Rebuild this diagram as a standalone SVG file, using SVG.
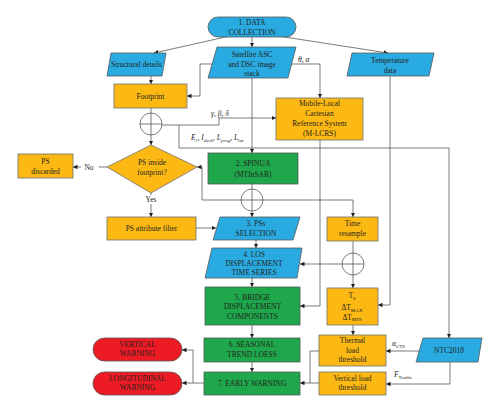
<svg xmlns="http://www.w3.org/2000/svg" width="500" height="413" viewBox="0 0 500 413">
<style>
text{font-family:"Liberation Serif","Times New Roman",serif;font-size:7.5px;fill:#231f20;text-anchor:middle}
.b{fill:#29abe2;stroke:#58595b;stroke-width:0.8}
.o{fill:#fdb913;stroke:#6d6e71;stroke-width:0.8}
.g{fill:#1fa74b;stroke:#58595b;stroke-width:0.8}
.r{fill:#ed1c24;stroke:#58595b;stroke-width:0.8}
.c{fill:none;stroke:#58595b;stroke-width:0.8}
.ar{marker-end:url(#a)}
.it{font-style:italic;text-anchor:start}
.s{font-size:5px}
</style>
<defs>
<marker id="a" viewBox="0 0 6 6" refX="6" refY="3" markerWidth="4.5" markerHeight="4.5" markerUnits="userSpaceOnUse" orient="auto"><path d="M0,0L6,3L0,6z" fill="#231f20"/></marker>
</defs>
<rect width="500" height="413" fill="#fff"/>
<g id="connectors">
<path class="c ar" d="M252,37V47"/>
<path class="c ar" d="M230,36L154,53"/>
<path class="c ar" d="M278,36L388,53"/>
<path class="c ar" d="M151,76V84"/>
<path class="c ar" d="M212,64H200V96H187"/>
<path class="c ar" d="M292,64H320V98"/>
<path class="c" d="M151,108V113"/>
<path class="c ar" d="M151,135V145"/>
<path class="c ar" d="M162,125H219V118H276"/>
<path class="c ar" d="M179,125V148H449V338"/>
<path class="c ar" d="M252,78V153"/>
<path class="c" d="M252,184V189"/>
<path class="c ar" d="M252,211V217"/>
<path class="c ar" d="M241,200H202V167H197"/>
<path class="c ar" d="M263,200H353V217"/>
<path class="c" d="M107,167H99"/>
<path class="c ar" d="M81,167H73"/>
<path class="c" d="M151,193V195"/>
<path class="c ar" d="M151,204V217"/>
<path class="c ar" d="M196,228H216"/>
<path class="c ar" d="M256,240V248"/>
<path class="c" d="M353,241V253"/>
<path class="c ar" d="M342,264H300"/>
<path class="c ar" d="M353,275V288"/>
<path class="c ar" d="M252,278V287"/>
<path class="c ar" d="M320,140V306H300"/>
<path class="c ar" d="M390,76V305H378"/>
<path class="c ar" d="M252,325V338"/>
<path class="c ar" d="M252,362V372"/>
<path class="c ar" d="M353,325V335"/>
<path class="c" d="M319,351H310V383"/>
<path class="c ar" d="M319,383H300"/>
<path class="c ar" d="M420,351H386"/>
<path class="c ar" d="M450,362V384H386"/>
<path class="c ar" d="M204,383H182"/>
<path class="c ar" d="M193,383V350H182"/>
<text x="89" y="169.8">No</text>
<text x="151" y="201.5">Yes</text>
<text class="it" x="298" y="62">θ, α</text>
<text class="it" x="211" y="115.5">γ, β, δ</text>
<text class="it" x="191" y="140">E<tspan class="s" dy="1.5">r</tspan><tspan dy="-1.5">, I</tspan><tspan class="s" dy="1.5">deck</tspan><tspan dy="-1.5">, L</tspan><tspan class="s" dy="1.5">prog</tspan><tspan dy="-1.5">, L</tspan><tspan class="s" dy="1.5">lat</tspan></text>
<text class="it" x="392" y="346">α<tspan class="s" dy="1.5" font-style="normal">CTE</tspan></text>
<text class="it" x="394" y="377">F<tspan class="s" dy="1.5" font-style="normal">Traffic</tspan></text>
</g>
<g id="n1"><rect class="b" x="208" y="17" width="88" height="20" rx="10"/><text x="252" y="25">1. DATA</text><text x="252" y="34.5">COLLECTION</text></g>
<g id="sat"><path class="b" d="M217,47H296L288,78H208Z"/><text x="252" y="56.5">Satellite ASC</text><text x="252" y="66.5">and DSC image</text><text x="252" y="76.3">stack</text></g>
<g id="struct"><path class="b" d="M111,53H166L162,76H107Z"/><text x="136.5" y="67.3">Structural details</text></g>
<g id="temp"><path class="b" d="M352,53H434L429,76H347Z"/><text x="390" y="62.8">Temperature</text><text x="390" y="72.8">data</text></g>
<g id="footprint"><rect class="o" x="114" y="84" width="73" height="24"/><text x="150.5" y="98.8">Footprint</text></g>
<g id="mlcrs"><rect class="o" x="276" y="98" width="87" height="42"/><text x="319.5" y="105.8">Mobile-Local</text><text x="319.5" y="115.8">Cartesian</text><text x="319.5" y="125.8">Reference System</text><text x="319.5" y="135.8">(M-LCRS)</text></g>
<g id="sum1"><circle class="c" cx="151" cy="124" r="11"/><path class="c" d="M151,113V135M140,124H162"/></g>
<g id="spinua"><rect class="g" x="208" y="153" width="90" height="31"/><text x="253" y="166">2. SPINUA</text><text x="253" y="177">(MTInSAR)</text></g>
<g id="diamond"><path class="o" d="M151,145L197,167L151,193L107,167Z"/><text x="152" y="164.8">PS inside</text><text x="152" y="174.8">footprint?</text></g>
<g id="discarded"><rect class="o" x="18" y="154" width="55" height="24"/><text x="45.5" y="163.8">PS</text><text x="45.5" y="173.8">discarded</text></g>
<g id="sum2"><circle class="c" cx="252" cy="200" r="11"/><path class="c" d="M252,189V211M241,200H263"/></g>
<g id="attr"><rect class="o" x="107" y="217" width="89" height="23"/><text x="151.5" y="231.3">PS attribute filter</text></g>
<g id="pss"><path class="b" d="M220,217H300L293,240H213Z"/><text x="256" y="225.8">3. PSs</text><text x="256" y="235.8">SELECTION</text></g>
<g id="timeres"><rect class="o" x="327" y="217" width="51" height="24"/><text x="352.5" y="225.8">Time</text><text x="352.5" y="235.8">resample</text></g>
<g id="sum3"><circle class="c" cx="353" cy="264" r="11"/><path class="c" d="M353,253V275M342,264H364"/></g>
<g id="los"><path class="b" d="M212,248H302L297,278H205Z"/><text x="254" y="256.8">4. LOS</text><text x="254" y="265.8">DISPLACEMENT</text><text x="254" y="274.8">TIME SERIES</text></g>
<g id="bridge"><rect class="g" x="205" y="287" width="95" height="38"/><text x="252.5" y="299.8">5. BRIDGE</text><text x="252.5" y="309">DISPLACEMENT</text><text x="252.5" y="318.8">COMPONENTS</text></g>
<g id="tbox"><rect class="o" x="327" y="288" width="51" height="37"/><text x="352" y="298">T<tspan class="s" dy="1.5">0</tspan></text><text x="352" y="310">ΔT<tspan class="s" dy="1.5">MAX</tspan></text><text x="352" y="319.5">ΔT<tspan class="s" dy="1.5">MIN</tspan></text></g>
<g id="seasonal"><rect class="g" x="204" y="338" width="96" height="24"/><text x="252" y="346.8">6. SEASONAL</text><text x="252" y="356.8">TREND LOESS</text></g>
<g id="early"><rect class="g" x="204" y="372" width="96" height="23"/><text x="252" y="385.8">7. EARLY WARNING</text></g>
<g id="vwarn"><rect class="r" x="93" y="338" width="89" height="23" rx="11.5"/><text x="137.5" y="346.5">VERTICAL</text><text x="137.5" y="356">WARNING</text></g>
<g id="lwarn"><rect class="r" x="93" y="372" width="89" height="23" rx="11.5"/><text x="137.5" y="380.5">LONGITUDINAL</text><text x="137.5" y="390">WARNING</text></g>
<g id="thermal"><rect class="o" x="319" y="335" width="67" height="31"/><text x="352.5" y="342.8">Thermal</text><text x="352.5" y="352.5">load</text><text x="352.5" y="362">threshold</text></g>
<g id="vload"><rect class="o" x="319" y="372" width="67" height="23"/><text x="352.5" y="380.8">Vertical load</text><text x="352.5" y="390">threshold</text></g>
<g id="ntc"><path class="b" d="M423,338H482L478,362H416Z"/><text x="449" y="352.8">NTC2018</text></g>
</svg>
